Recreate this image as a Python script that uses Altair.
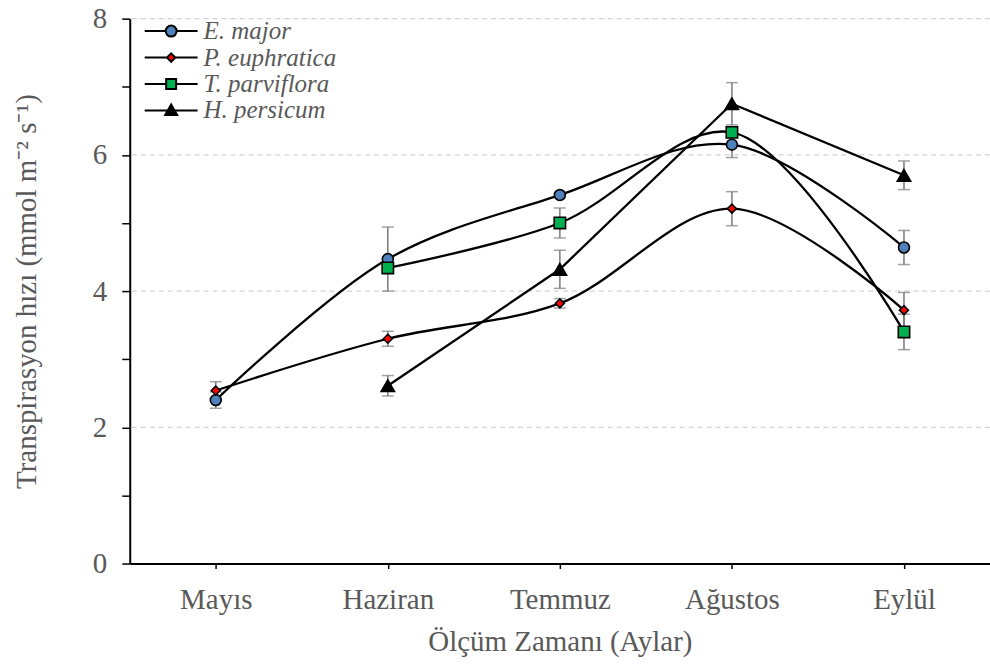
import altair as alt
import pandas as pd

# Measurement months (x axis)
months = ["Mayıs", "Haziran", "Temmuz", "Ağustos", "Eylül"]

# Species shown in the legend
species = ["E. major", "P. euphratica", "T. parviflora", "H. persicum"]

# Mean transpiration rate per month (None = not measured)
e_major = [2.40, 4.47, 5.41, 6.15, 4.64]
p_euphratica = [2.54, 3.30, 3.82, 5.21, 3.72]
t_parviflora = [None, 4.34, 5.00, 6.33, 3.40]
h_persicum = [None, 2.61, 4.32, 6.75, 5.70]

# Standard errors
e_major_err = [0.12, 0.47, 0.04, 0.19, 0.25]
p_euphratica_err = [0.13, 0.11, 0.07, 0.25, 0.26]
t_parviflora_err = [None, 0.06, 0.22, 0.05, 0.26]
h_persicum_err = [None, 0.15, 0.28, 0.31, 0.21]

# Series drawn with smoothed lines; the rest use straight segments
smoothed = ["E. major", "P. euphratica", "T. parviflora"]

means = [e_major, p_euphratica, t_parviflora, h_persicum]
errors = [e_major_err, p_euphratica_err, t_parviflora_err, h_persicum_err]

rows = []
for sp, vals, errs in zip(species, means, errors):
    for i, (m, v, e) in enumerate(zip(months, vals, errs)):
        if v is None:
            continue
        rows.append({"species": sp, "month": m, "idx": i, "value": v,
                     "lo": v - e, "hi": v + e,
                     "smooth": sp in smoothed})
df = pd.DataFrame(rows)

grid_values = [2, 4, 6, 8]
grid_df = pd.DataFrame({"g": grid_values})

FONT = "Liberation Serif"
GRAY = "#595959"
FS = 29

marker_fill = ["#4F81BD", "#FF0000", "#00B050", "#000000"]
marker_shape = ["circle", "diamond", "square", "triangle-up"]
marker_size = [120, 80, 130, 180]
outline = ["black", "black", "black", "black"]

# Legend symbols: a short line with the marker in the middle
legend_shapes = [
    "M-2.65,0H-0.55M0.55,0H2.65M-0.55,0A0.55,0.55,0,1,0,0.55,0A0.55,0.55,0,1,0,-0.55,0Z",
    "M-2.65,0H-0.42M0.42,0H2.65M0,-0.42L0.42,0L0,0.42L-0.42,0Z",
    "M-2.65,0H-0.5M0.5,0H2.65M-0.5,-0.5H0.5V0.5H-0.5Z",
    "M-2.65,0H2.65M0,-0.6L0.6,0.45L-0.6,0.45Z",
]

x_axis = alt.Axis(
    title="Ölçüm Zamanı (Aylar)", labelAngle=0, domainColor="black",
    domainWidth=2, tickColor="black", tickSize=5, tickWidth=1.5,
    labelFont=FONT, labelFontSize=FS, labelColor=GRAY, labelPadding=17,
    titleFont=FONT, titleFontSize=FS, titleColor=GRAY,
    titleFontWeight="normal", titlePadding=13, grid=False,
)
y_axis = alt.Axis(
    title="Transpirasyon hızı (mmol m⁻² s⁻¹)",
    values=list(range(0, 9)),
    labelExpr="datum.value % 2 == 0 ? datum.label : ''",
    domainColor="black", domainWidth=2, tickColor="black", tickSize=8,
    tickWidth=1.5, labelFont=FONT, labelFontSize=FS, labelColor=GRAY,
    labelPadding=15, titleFont=FONT, titleFontSize=FS, titleColor=GRAY,
    titleFontWeight="normal", titlePadding=51, grid=False,
)
x_scale = alt.Scale(type="point", domain=months, padding=0.5)
y_scale = alt.Scale(domain=[0, 8], nice=False)

x_enc = alt.X("month:N", sort=months, scale=x_scale, axis=x_axis)
y_val = alt.Y("value:Q", scale=y_scale, axis=y_axis)

grid = alt.Chart(grid_df).mark_rule(
    color="#D3D3D3", strokeWidth=1.2, strokeDash=[5, 4]
).encode(y=alt.Y("g:Q", scale=y_scale, axis=y_axis))

smooth_lines = alt.Chart(df).transform_filter("datum.smooth").mark_line(
    color="black", strokeWidth=2.3, interpolate="catmull-rom"
).encode(x=x_enc, y=y_val, detail="species:N", order="idx:Q")

straight_lines = alt.Chart(df).transform_filter("!datum.smooth").mark_line(
    color="black", strokeWidth=2.3
).encode(x=x_enc, y=y_val, detail="species:N", order="idx:Q")

err_rule = alt.Chart(df).mark_rule(color="#7A7A7A", strokeWidth=1.5).encode(
    x=x_enc, y=alt.Y("lo:Q", scale=y_scale, axis=y_axis), y2="hi:Q"
)
err_lo = alt.Chart(df).mark_tick(color="#7A7A7A", thickness=1.5, size=12).encode(
    x=x_enc, y=alt.Y("lo:Q", scale=y_scale, axis=y_axis)
)
err_hi = alt.Chart(df).mark_tick(color="#7A7A7A", thickness=1.5, size=12).encode(
    x=x_enc, y=alt.Y("hi:Q", scale=y_scale, axis=y_axis)
)

# One marker layer per species
point_layers = []
for sp, shp, col, sz in zip(species, marker_shape, marker_fill, marker_size):
    point_layers.append(
        alt.Chart(df).transform_filter(alt.datum.species == sp).mark_point(
            filled=True, shape=shp, fill=col, stroke="black",
            strokeWidth=1.6, size=sz, opacity=1,
        ).encode(x=x_enc, y=y_val)
    )

# Legend only: no marks drawn, the scales feed the legend entries
legend_layer = alt.Chart(df).transform_filter("datum.value < 0").mark_point(
    filled=True, strokeWidth=2, opacity=1
).encode(
    x=x_enc,
    y=y_val,
    shape=alt.Shape(
        "species:N", scale=alt.Scale(domain=species, range=legend_shapes),
        legend=alt.Legend(
            title=None, orient="none", legendX=29, legendY=0,
            labelFont=FONT, labelFontSize=25, labelFontStyle="italic",
            labelColor=GRAY, labelOffset=20, symbolSize=400,
            symbolStrokeWidth=2, symbolOpacity=1, rowPadding=0.5, padding=0,
        ),
    ),
    fill=alt.Fill("species:N", scale=alt.Scale(domain=species, range=marker_fill)),
    stroke=alt.Stroke("species:N", scale=alt.Scale(domain=species, range=outline)),
)

chart = alt.layer(
    grid, smooth_lines, straight_lines, err_rule, err_lo, err_hi,
    *point_layers, legend_layer
).properties(
    width=862, height=546,
    autosize=alt.AutoSizeParams(type="none"),
    padding={"left": 130, "top": 18, "right": 0, "bottom": 100},
    background="white",
).configure(
    font=FONT
).configure_axis(
    labelFont=FONT, titleFont=FONT
).configure_legend(
    labelFont=FONT
).configure_view(stroke=None)

chart.save("out.html", embed_options={"renderer": "svg", "actions": False})
